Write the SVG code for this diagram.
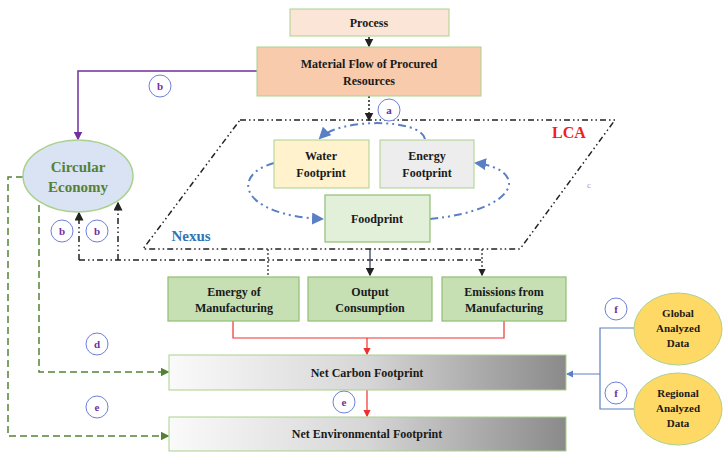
<svg xmlns="http://www.w3.org/2000/svg" width="724" height="456" viewBox="0 0 724 456">
<defs>
<style>
text{font-family:"Liberation Serif",serif;font-weight:bold;font-size:12px;text-anchor:middle;fill:#1a1a1a}
.lbl{fill:#fff;stroke:#6f7fd6;stroke-width:1}
.lt{fill:#7030a0;font-size:11px}
.g{fill:#c6e0b4;stroke:#8fbf73;stroke-width:1.2}
.dd{fill:none;stroke:#222;stroke-width:1.5;stroke-dasharray:6 3 1.5 3 1.5 3}
.gd{fill:none;stroke:#548235;stroke-width:1.5;stroke-dasharray:7 4}
.bl{fill:none;stroke:#5b7fc4;stroke-width:2;stroke-dasharray:8 4 2 4 2 4}
</style>
<linearGradient id="gr" x1="0" x2="1"><stop offset="0" stop-color="#fafafa"/><stop offset="0.5" stop-color="#d6d6d6"/><stop offset="1" stop-color="#8a8a8a"/></linearGradient>
<marker id="ak" markerWidth="6" markerHeight="6" refX="5" refY="3" orient="auto"><path d="M0,0L6,3L0,6z" fill="#222"/></marker>
<marker id="ap" markerWidth="6" markerHeight="6" refX="5" refY="3" orient="auto"><path d="M0,0L6,3L0,6z" fill="#7030a0"/></marker>
<marker id="ar" markerWidth="6" markerHeight="6" refX="5" refY="3" orient="auto"><path d="M0,0L6,3L0,6z" fill="#f03030"/></marker>
<marker id="ag" markerWidth="6" markerHeight="6" refX="5" refY="3" orient="auto"><path d="M0,0L6,3L0,6z" fill="#548235"/></marker>
<marker id="ab" markerWidth="6" markerHeight="6" refX="5" refY="3" orient="auto"><path d="M0,0L6,3L0,6z" fill="#5b7fc4"/></marker>
</defs>
<rect width="724" height="456" fill="#fff"/>
<g id="connectors">
<path d="M369,37V46" stroke="#222" stroke-width="1.5" stroke-dasharray="2 2" marker-end="url(#ak)" fill="none"/>
<path d="M369,96V120" stroke="#222" stroke-width="1.5" stroke-dasharray="2 2" marker-end="url(#ak)" fill="none"/>
<path d="M257,71H78V139" stroke="#7030a0" stroke-width="1.5" fill="none" marker-end="url(#ap)"/>
<path class="bl" d="M425,139C420,118 340,118 320,138" marker-end="url(#ab)"/>
<path class="bl" d="M274,163C230,175 240,215 322,219" marker-end="url(#ab)"/>
<path class="bl" d="M430,219C520,210 530,170 476,163" marker-end="url(#ab)"/>
<path class="dd" d="M79,260H482"/>
<path class="dd" d="M79,260V213" marker-end="url(#ak)"/>
<path class="dd" d="M118,260V203" marker-end="url(#ak)"/>
<path d="M268,249V275M482,249V275" stroke="#222" stroke-width="1.2" stroke-dasharray="2 2" fill="none" marker-end="url(#ak)"/>
<path d="M370,249V275" stroke="#44546a" stroke-width="1.4" fill="none" marker-end="url(#ak)"/>
<path d="M233,321V338H504V321M367,338V354" stroke="#f03030" stroke-width="1.2" fill="none" marker-end="url(#ar)"/>
<path d="M367,390V416" stroke="#f03030" stroke-width="1.2" fill="none" marker-end="url(#ar)"/>
<path class="gd" d="M23,177H8V436H168" marker-end="url(#ag)"/>
<path class="gd" d="M39,205V372H168" marker-end="url(#ag)"/>
<path d="M634,328H600V409H634M600,374H567" stroke="#5b7fc4" stroke-width="1.2" fill="none" marker-end="url(#ab)"/>
</g>
<g id="lca"><path class="dd" d="M240,120H615L520,249H143Z"/>
<text x="569" y="138" style="fill:#f02020;font-size:16px">LCA</text>
<text x="589" y="188" style="fill:#b090d0;font-size:9px;font-weight:normal">c</text>
<text x="191" y="241" style="fill:#2e75b6;font-size:15px">Nexus</text></g>
<g id="process"><rect x="290" y="9" width="159" height="27" fill="#fbe5d6" stroke="#a9d18e"/><text x="369" y="27">Process</text></g>
<g id="material"><rect x="257" y="47" width="224" height="49" fill="#f8cbad" stroke="#a9d18e"/><text x="369" y="68">Material Flow of Procured</text><text x="369" y="85">Resources</text></g>
<g id="ce"><ellipse cx="78" cy="176" rx="55" ry="36" fill="#dae3f3" stroke="#a9d18e" stroke-width="1.5"/><text x="78" y="172" style="fill:#548235;font-size:15px">Circular</text><text x="78" y="192" style="fill:#548235;font-size:15px">Economy</text></g>
<g id="water"><rect x="274" y="140" width="95" height="48" fill="#fff2cc" stroke="#a9d18e"/><text x="321" y="160">Water</text><text x="321" y="177">Footprint</text></g>
<g id="energy"><rect x="380" y="140" width="94" height="48" fill="#ededed" stroke="#a9d18e"/><text x="427" y="160">Energy</text><text x="427" y="177">Footprint</text></g>
<g id="food"><rect x="325" y="195" width="105" height="47" class="g" style="fill:#e2f0d9"/><text x="377" y="223">Foodprint</text></g>
<g id="emergy"><rect x="168" y="277" width="131" height="44" class="g"/><text x="234" y="296">Emergy of</text><text x="234" y="312">Manufacturing</text></g>
<g id="output"><rect x="308" y="277" width="124" height="44" class="g"/><text x="370" y="296">Output</text><text x="370" y="312">Consumption</text></g>
<g id="emissions"><rect x="442" y="277" width="124" height="44" class="g"/><text x="504" y="296">Emissions from</text><text x="504" y="312">Manufacturing</text></g>
<g id="ncf"><rect x="169" y="355" width="397" height="35" fill="url(#gr)" stroke="#a9d18e"/><text x="367" y="377">Net Carbon Footprint</text></g>
<g id="nef"><rect x="169" y="417" width="397" height="34" fill="url(#gr)" stroke="#a9d18e"/><text x="367" y="438">Net Environmental Footprint</text></g>
<g id="global"><ellipse cx="678" cy="329" rx="44" ry="36" fill="#ffd966" stroke="#a9d18e"/><text x="678" y="317" style="font-size:11px">Global</text><text x="678" y="332" style="font-size:11px">Analyzed</text><text x="678" y="347" style="font-size:11px">Data</text></g>
<g id="regional"><ellipse cx="678" cy="409" rx="44" ry="36" fill="#ffd966" stroke="#a9d18e"/><text x="678" y="397" style="font-size:11px">Regional</text><text x="678" y="412" style="font-size:11px">Analyzed</text><text x="678" y="427" style="font-size:11px">Data</text></g>
<g id="labels">
<circle class="lbl" cx="160" cy="86" r="11"/><text class="lt" x="160" y="90">b</text>
<circle class="lbl" cx="389" cy="110" r="11"/><text class="lt" x="389" y="114">a</text>
<circle class="lbl" cx="62" cy="231" r="11"/><text class="lt" x="62" y="235">b</text>
<circle class="lbl" cx="97" cy="231" r="11"/><text class="lt" x="97" y="235">b</text>
<circle class="lbl" cx="97" cy="344" r="11"/><text class="lt" x="97" y="348">d</text>
<circle class="lbl" cx="97" cy="407" r="11"/><text class="lt" x="97" y="411">e</text>
<circle class="lbl" cx="344" cy="402" r="11"/><text class="lt" x="344" y="406">e</text>
<circle class="lbl" cx="616" cy="309" r="11"/><text class="lt" x="616" y="313">f</text>
<circle class="lbl" cx="616" cy="393" r="11"/><text class="lt" x="616" y="397">f</text>
</g>
</svg>
